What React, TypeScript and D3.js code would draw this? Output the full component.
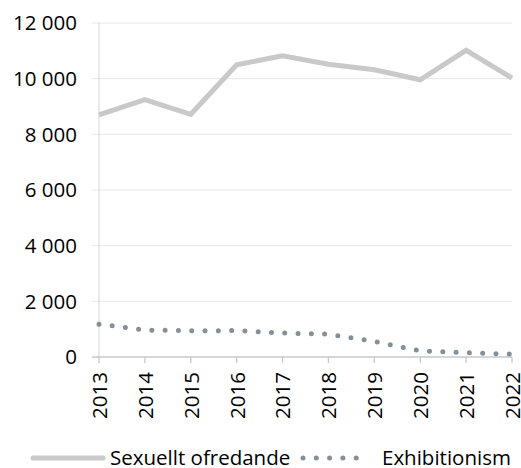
import React from "react";
import * as d3 from "d3";

const years = ["2013", "2014", "2015", "2016", "2017", "2018", "2019", "2020", "2021", "2022"];
const sexuelltOfredande = [8700, 9250, 8720, 10500, 10820, 10520, 10320, 9960, 11020, 10020];
const exhibitionism = [1180, 970, 940, 950, 860, 820, 560, 220, 160, 100];
const yTicks = [0, 2000, 4000, 6000, 8000, 10000, 12000];
const seriesNames = ["Sexuellt ofredande", "Exhibitionism"];

const W = 521;
const H = 468;
const FONT = "'Open Sans', Lato, sans-serif";
const FS = 20.5;

function fmt(v: number) {
  return d3.format(",")(v).replace(/,/g, " ");
}

export default function App() {
  const x = d3.scalePoint<string>().domain(years).range([99, 512]);
  const y = d3.scaleLinear().domain([0, 12000]).range([357, 23]);
  const line = d3
    .line<number>()
    .x((_, i) => x(years[i]) as number)
    .y((d) => y(d));

  return (
    <svg
      width={W}
      height={H}
      style={{ position: "absolute", left: 0, top: 0, background: "#fff" }}
      fontFamily={FONT}
    >
      {yTicks.map((t) => (
        <g key={t}>
          {t > 0 && (
            <line x1={92} x2={512} y1={y(t)} y2={y(t)} stroke="#e8e8e8" strokeWidth={1} />
          )}
          <text x={77} y={y(t)} dy="0.36em" textAnchor="end" fontSize={FS} fill="#000">
            {fmt(t)}
          </text>
        </g>
      ))}
      <line x1={99} x2={99} y1={23} y2={357} stroke="#d4d4d4" strokeWidth={1} />
      <line x1={92} x2={512} y1={357} y2={357} stroke="#c8c8c8" strokeWidth={1.3} />
      {years.map((yr) => (
        <g key={yr}>
          <line
            x1={x(yr)}
            x2={x(yr)}
            y1={357}
            y2={363}
            stroke="#c8c8c8"
            strokeWidth={1.3}
          />
          <text
            transform={`translate(${(x(yr) as number) + 0.5},372) rotate(-90)`}
            textAnchor="end"
            dy="0.36em"
            fontSize={FS}
            fill="#000"
          >
            {yr}
          </text>
        </g>
      ))}
      <path
        d={line(sexuelltOfredande) || ""}
        fill="none"
        stroke="#c9c9c9"
        strokeWidth={5}
        strokeLinejoin="miter"
      />
      <path
        d={line(exhibitionism) || ""}
        fill="none"
        stroke="#848f98"
        strokeWidth={5}
        strokeDasharray="0 13.3"
        strokeLinecap="round"
      />
      <g>
        <line x1={33} x2={103} y1={458} y2={458} stroke="#c9c9c9" strokeWidth={5} strokeLinecap="round" />
        <text x={110} y={458} dy="0.36em" fontSize={FS} fill="#000">
          {seriesNames[0]}
        </text>
        <line
          x1={303}
          x2={364}
          y1={458}
          y2={458}
          stroke="#848f98"
          strokeWidth={5}
          strokeDasharray="0 13.3"
          strokeLinecap="round"
        />
        <text x={382} y={458} dy="0.36em" fontSize={FS} fill="#000">
          {seriesNames[1]}
        </text>
      </g>
    </svg>
  );
}
